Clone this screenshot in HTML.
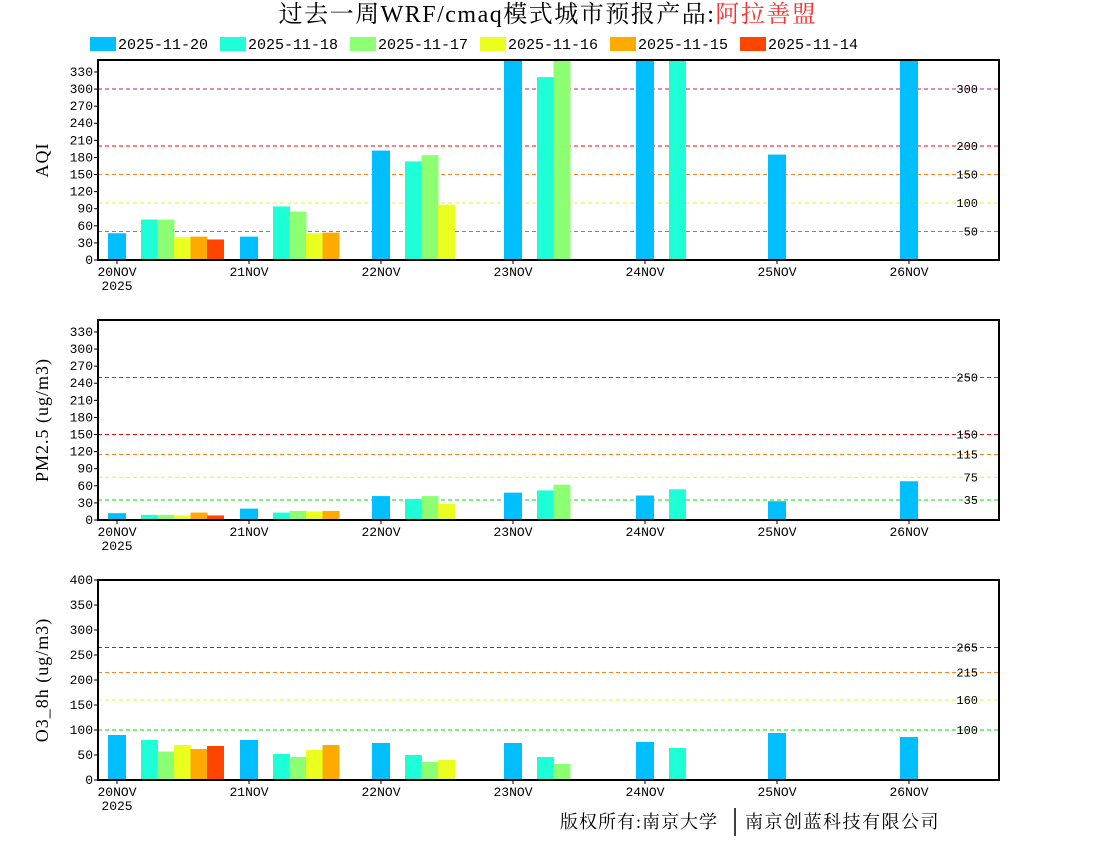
<!DOCTYPE html>
<html><head><meta charset="utf-8">
<style>
html,body{margin:0;padding:0;background:#fff;width:1100px;height:850px;overflow:hidden}
svg text{font-family:"Liberation Mono","DejaVu Sans Mono",monospace}
</style></head><body>
<svg id="s" width="1100" height="850" xmlns="http://www.w3.org/2000/svg">
<text x="548" y="22" text-anchor="middle" style="font-family:'Liberation Serif','Noto Serif CJK SC',serif;font-size:24px;letter-spacing:1.5px" fill="#000">过去一周WRF/cmaq模式城市预报产品:<tspan fill="#ff3030">阿拉善盟</tspan></text>
<text x="560" y="828" style="font-family:'Liberation Serif','Noto Serif CJK SC',serif;font-size:18px;letter-spacing:1px" fill="#000">版权所有:南京大学</text>
<line x1="735" y1="808" x2="735" y2="836" stroke="#000" stroke-width="1.5"/>
<text x="745" y="828" style="font-family:'Liberation Serif','Noto Serif CJK SC',serif;font-size:18px;letter-spacing:1.5px" fill="#000">南京创蓝科技有限公司</text>
</svg>
<script>
const s=document.getElementById('s');const NS='http://www.w3.org/2000/svg';
function el(t,a,txt){const e=document.createElementNS(NS,t);for(const k in a)e.setAttribute(k,a[k]);if(txt!==undefined)e.textContent=txt;s.appendChild(e);return e;}
const C=['#00bfff','#1effd8','#8cff73','#eaff1f','#ffaa00','#ff4500'];
const slot=[0,2,3,4,5,6];
const L=['2025-11-20','2025-11-18','2025-11-17','2025-11-16','2025-11-15','2025-11-14'];
L.forEach((t,i)=>{const x=90+130*i;el('rect',{x:x,y:37,width:26,height:14,fill:C[i]});el('text',{x:x+28,y:49,'font-size':15},t);});
const X0=98,X1=999,days=[117,249,381,513,645,777,909],names=['20NOV','21NOV','22NOV','23NOV','24NOV','25NOV','26NOV'];
function panel(top,max,step,ticks,title,lines,data){
 const bot=top+200,k=200/max;
 const cp='c'+top;const d=el('clipPath',{id:cp});const r=document.createElementNS(NS,'rect');r.setAttribute('x',X0);r.setAttribute('y',top);r.setAttribute('width',X1-X0);r.setAttribute('height',200);d.appendChild(r);
 lines.forEach(([v,c])=>{const y=bot-v*k;el('line',{x1:X0,y1:y,x2:X1,y2:y,stroke:c,'stroke-width':1,'stroke-dasharray':'4,3'});el('text',{x:978,y:y+4,'font-size':12,'text-anchor':'end'},v);});
 data.forEach((day,di)=>{day.forEach((v,si)=>{if(v==null)return;const x=days[di]-9+16.5*slot[si];const h=Math.min(v,max*1.1)*k;el('rect',{x:x,y:bot-h,width:si==0?18:17,height:h,fill:C[si],'clip-path':'url(#'+cp+')'});});});
 el('rect',{x:X0,y:top,width:X1-X0,height:200,fill:'none',stroke:'#000','stroke-width':2});
 ticks.forEach(v=>{const y=bot-v*k;el('line',{x1:X0-4,y1:y,x2:X0,y2:y,stroke:'#000'});el('text',{x:X0-5,y:y+4,'font-size':13,'text-anchor':'end'},v);});
 days.forEach((x,i)=>{el('line',{x1:x,y1:bot,x2:x,y2:bot+4,stroke:'#000'});el('text',{x:x,y:bot+16,'font-size':13,'text-anchor':'middle'},names[i]);});
 el('text',{x:117,y:bot+30,'font-size':13,'text-anchor':'middle'},'2025');
 el('text',{x:48,y:top+100,'font-size':18,'text-anchor':'middle',transform:'rotate(-90 48 '+(top+100)+')',style:"font-family:'Liberation Serif',serif;letter-spacing:1px"},title);
}
const t330=[];for(let v=0;v<=330;v+=30)t330.push(v);
panel(60,351,30,t330,'AQI',[[300,'#cc1070'],[200,'#ff0000'],[150,'#ff8020'],[100,'#f0f020'],[50,'#00dd00']],
 [[47,71,71,40,41,36],[41,94,85,47,48,null],[192,173,184,97,null,null],[400,321,400,null,null,null],[400,400,null,null,null,null],[185,null,null,null,null,null],[400,null,null,null,null,null]]);
panel(320,351,30,t330,'PM2.5 (ug/m3)',[[250,'#e0107a'],[150,'#dd1010'],[115,'#ff8020'],[75,'#f0f020'],[35,'#00dd00']],
 [[12,9,9,8,13,8],[20,13,16,15,16,null],[42,37,42,28,null,null],[48,52,62,null,null,null],[43,54,null,null,null,null],[33,null,null,null,null,null],[68,null,null,null,null,null]]);
panel(580,400,50,[0,50,100,150,200,250,300,350,400],'O3_8h (ug/m3)',[[265,'#ff0000'],[215,'#ff8020'],[160,'#f0f020'],[100,'#00dd00']],
 [[90,80,57,70,62,68],[80,52,46,60,70,null],[74,50,36,40,null,null],[74,46,32,null,null,null],[76,64,null,null,null,null],[94,null,null,null,null,null],[86,null,null,null,null,null]]);
</script>
</body></html>
